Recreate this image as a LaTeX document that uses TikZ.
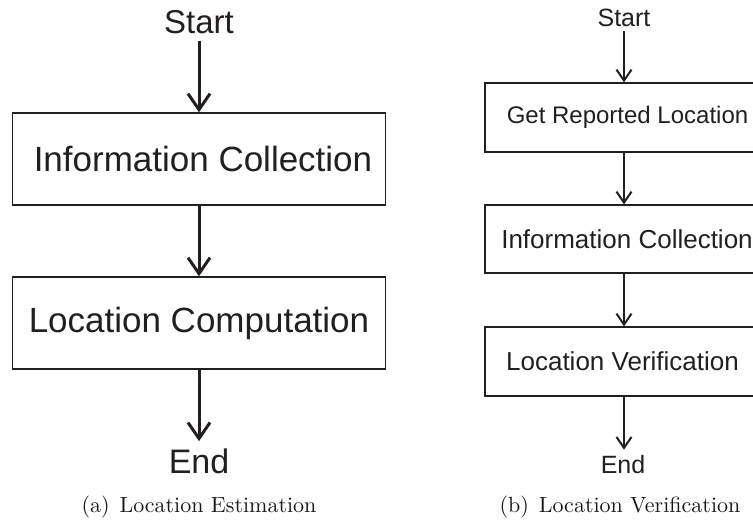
\documentclass[tikz,border=0pt]{standalone}
\usepackage{fontspec}
\usepackage{graphicx}
\newfontfamily\arialf{Liberation Sans}
\usetikzlibrary{arrows.meta}
\definecolor{ink}{HTML}{231F20}
\begin{document}
\begin{tikzpicture}[x=1pt,y=-1pt,
  lbl/.style={inner sep=0pt,anchor=base,text=ink},
  boxL/.style={draw=ink,line width=1.4pt,inner sep=0pt,text=ink,minimum width=373pt,minimum height=92pt,font=\arialf\fontsize{35}{35}\selectfont},
  boxR/.style={draw=ink,line width=1.2pt,inner sep=0pt,text=ink,minimum height=69pt},
  arrL/.style={draw=ink,line width=3pt,-{Straight Barb[length=16pt,width=22pt]}},
  arrR/.style={draw=ink,line width=2pt,-{Straight Barb[length=11pt,width=15pt]}},
  capt/.style={inner sep=0pt,anchor=base,text=black!90,font=\fontsize{10}{12}\selectfont}]
\clip (0,0) rectangle (753,522);
% ---------- (a) ----------
\node[lbl,font=\arialf\fontsize{33}{33}\selectfont] (sa) at (199,33) {Start};
\node[boxL] (a1) at (199,159) {\hspace*{8pt}Information Collection};
\node[boxL] (a2) at (199,323) {Location Computation};
\node[lbl,font=\arialf\fontsize{34}{34}\selectfont] (ea) at (199,473) {End};
\draw[arrL,shorten <=7pt] (sa.south) -- (a1.north);
\draw[arrL] (a1.south) -- (a2.north);
\draw[arrL,shorten >=7pt] (a2.south) -- (ea.north);
\node[capt] (ca) at (199,512) {\scalebox{2.2}{(a)\hspace{0.45em}Location Estimation}};
% ---------- (b) ----------
\node[lbl,font=\arialf\fontsize{25}{25}\selectfont] (sb) at (624,27) {Start};
\node[boxR,minimum width=285pt,font=\arialf\fontsize{24}{24}\selectfont] (b1) at (627.5,117.5) {Get Reported Location};
\node[boxR,minimum width=284pt,minimum height=68pt,font=\arialf\fontsize{26}{26}\selectfont] (b2) at (627,239) {Information Collection};
\node[boxR,minimum width=275pt,font=\arialf\fontsize{26}{26}\selectfont] (b3) at (622.5,361.5) {Location Verification};
\node[lbl,font=\arialf\fontsize{25}{25}\selectfont] (eb) at (623,473) {End};
\draw[arrR,shorten <=4pt] (sb.south) -- (sb.south |- b1.north);
\draw[arrR] (sb.south |- b1.south) -- (sb.south |- b2.north);
\draw[arrR] (sb.south |- b2.south) -- (sb.south |- b3.north);
\draw[arrR,shorten >=5pt] (sb.south |- b3.south) -- (sb.south |- eb.north);
\node[capt] (cb) at (620,512) {\scalebox{2.2}{(b)\hspace{0.45em}Location Verification}};
\end{tikzpicture}
\end{document}
